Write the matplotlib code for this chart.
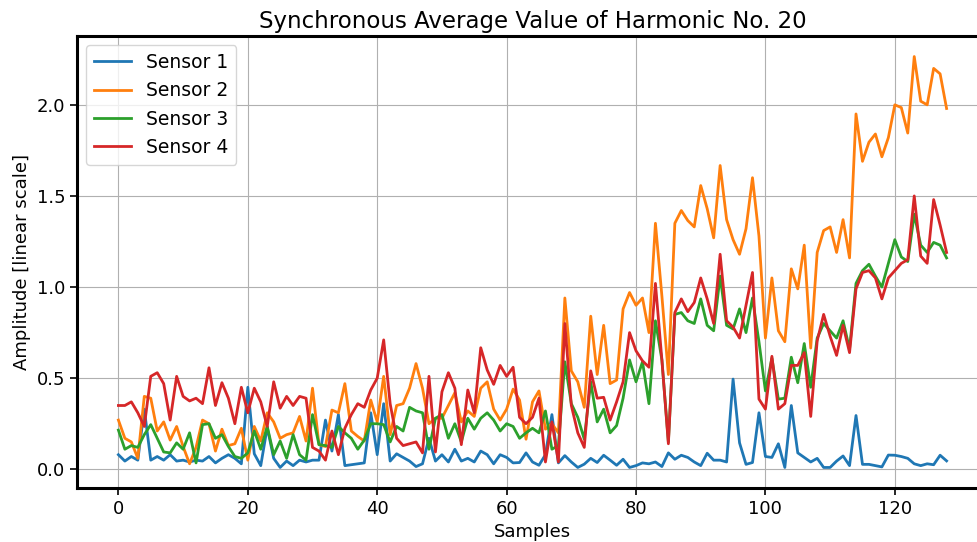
import numpy as np
import matplotlib
matplotlib.use("Agg")
import matplotlib.pyplot as plt

samples = np.arange(129)

sensor1 = [0.08, 0.045, 0.07, 0.05, 0.33, 0.05, 0.07, 0.05, 0.08, 0.045,
           0.05, 0.04, 0.05, 0.045, 0.07, 0.035, 0.06, 0.08, 0.06, 0.03,
           0.45, 0.085, 0.02, 0.23, 0.06, 0.01, 0.045, 0.02, 0.05, 0.04,
           0.05, 0.05, 0.27, 0.10, 0.30, 0.02, 0.025, 0.03, 0.035, 0.31,
           0.08, 0.36, 0.045, 0.085, 0.065, 0.045, 0.015, 0.03, 0.17, 0.045,
           0.08, 0.04, 0.11, 0.045, 0.06, 0.04, 0.10, 0.08, 0.03, 0.08,
           0.065, 0.035, 0.037, 0.09, 0.04, 0.022, 0.08, 0.30, 0.035, 0.075,
           0.04, 0.01, 0.028, 0.06, 0.037, 0.077, 0.05, 0.022, 0.055, 0.01,
           0.02, 0.035, 0.03, 0.04, 0.015, 0.09, 0.055, 0.077, 0.065, 0.04,
           0.02, 0.088, 0.05, 0.05, 0.04, 0.495, 0.145, 0.027, 0.037, 0.31,
           0.07, 0.065, 0.14, 0.01, 0.35, 0.09, 0.065, 0.04, 0.06, 0.01,
           0.01, 0.045, 0.073, 0.02, 0.295, 0.027, 0.027, 0.02, 0.013, 0.078,
           0.077, 0.07, 0.06, 0.03, 0.02, 0.03, 0.025, 0.077, 0.046]

sensor2 = [0.27, 0.17, 0.15, 0.06, 0.40, 0.39, 0.21, 0.26, 0.16, 0.235,
           0.125, 0.03, 0.12, 0.27, 0.25, 0.10, 0.22, 0.13, 0.14, 0.225,
           0.05, 0.235, 0.155, 0.31, 0.26, 0.17, 0.19, 0.20, 0.29, 0.155,
           0.445, 0.135, 0.125, 0.325, 0.31, 0.47, 0.21, 0.18, 0.155, 0.38,
           0.26, 0.51, 0.19, 0.35, 0.36, 0.445, 0.58, 0.445, 0.25, 0.28,
           0.28, 0.35, 0.42, 0.26, 0.32, 0.29, 0.445, 0.48, 0.33, 0.27,
           0.33, 0.44, 0.38, 0.165, 0.37, 0.43, 0.22, 0.25, 0.20, 0.94,
           0.54, 0.48, 0.34, 0.84, 0.52, 0.79, 0.47, 0.49, 0.88, 0.97,
           0.90, 0.94, 0.75, 1.35, 0.95, 0.52, 1.35, 1.42, 1.365, 1.33,
           1.557, 1.43, 1.27, 1.667, 1.37, 1.26, 1.18, 1.32, 1.60, 1.28,
           0.72, 1.05, 0.76, 0.70, 1.10, 0.99, 1.23, 0.665, 1.19, 1.31,
           1.33, 1.19, 1.37, 1.16, 1.95, 1.69, 1.795, 1.84, 1.715, 1.82,
           2.0, 1.985, 1.845, 2.265, 2.02, 2.0, 2.20, 2.17, 1.98]

sensor3 = [0.215, 0.11, 0.13, 0.12, 0.19, 0.245, 0.17, 0.095, 0.09, 0.145,
           0.11, 0.20, 0.035, 0.245, 0.25, 0.17, 0.19, 0.125, 0.07, 0.06,
           0.09, 0.21, 0.11, 0.235, 0.08, 0.155, 0.06, 0.19, 0.08, 0.05,
           0.30, 0.135, 0.13, 0.12, 0.235, 0.20, 0.17, 0.11, 0.16, 0.25,
           0.25, 0.245, 0.15, 0.235, 0.21, 0.34, 0.32, 0.31, 0.11, 0.28,
           0.30, 0.17, 0.25, 0.15, 0.28, 0.22, 0.28, 0.31, 0.27, 0.21,
           0.25, 0.235, 0.17, 0.20, 0.225, 0.20, 0.32, 0.11, 0.13, 0.59,
           0.36, 0.285, 0.165, 0.48, 0.26, 0.33, 0.20, 0.24, 0.39, 0.60,
           0.48, 0.59, 0.36, 0.815, 0.6, 0.15, 0.85, 0.86, 0.815, 0.80,
           0.935, 0.79, 0.76, 1.06, 0.79, 0.77, 0.88, 0.75, 0.94, 0.70,
           0.43, 0.61, 0.385, 0.39, 0.615, 0.475, 0.69, 0.45, 0.72, 0.80,
           0.76, 0.72, 0.815, 0.66, 1.02, 1.09, 1.125, 1.06, 1.0, 1.13,
           1.26, 1.165, 1.14, 1.40, 1.23, 1.19, 1.245, 1.23, 1.16]

sensor4 = [0.35, 0.35, 0.37, 0.31, 0.235, 0.51, 0.53, 0.47, 0.27, 0.51,
           0.40, 0.375, 0.39, 0.36, 0.557, 0.35, 0.475, 0.39, 0.25, 0.45,
           0.31, 0.445, 0.37, 0.235, 0.48, 0.335, 0.40, 0.35, 0.40, 0.39,
           0.12, 0.10, 0.05, 0.21, 0.08, 0.225, 0.30, 0.36, 0.34, 0.435,
           0.50, 0.71, 0.36, 0.17, 0.13, 0.14, 0.15, 0.09, 0.51, 0.095,
           0.425, 0.53, 0.445, 0.135, 0.435, 0.31, 0.667, 0.545, 0.466, 0.57,
           0.51, 0.56, 0.285, 0.25, 0.285, 0.39, 0.04, 0.26, 0.04, 0.80,
           0.35, 0.20, 0.12, 0.54, 0.39, 0.395, 0.27, 0.37, 0.48, 0.75,
           0.65, 0.595, 0.56, 1.02, 0.6, 0.14, 0.86, 0.935, 0.865, 0.915,
           1.05, 0.935, 0.80, 1.18, 0.815, 0.78, 0.72, 0.90, 1.08, 0.385,
           0.33, 0.62, 0.33, 0.36, 0.57, 0.57, 0.64, 0.29, 0.705, 0.85,
           0.73, 0.625, 0.79, 0.64, 0.99, 1.08, 1.09, 1.05, 0.935, 1.05,
           1.09, 1.13, 1.15, 1.50, 1.17, 1.13, 1.48, 1.34, 1.19]

series = [("Sensor 1", sensor1), ("Sensor 2", sensor2),
          ("Sensor 3", sensor3), ("Sensor 4", sensor4)]

fig = plt.figure(figsize=(9.77, 5.42), dpi=100)
W, H = 977, 542
ax = fig.add_axes([77 / W, (542 - 488) / H, (988 - 77) / W, (488 - 36) / H])

for label, vals in series:
    ax.plot(samples, vals, label=label, linewidth=2)

ax.grid(True, color="#b0b0b0", linewidth=0.8)
ax.set_axisbelow(True)
for s in ax.spines.values():
    s.set_linewidth(2.2)
ax.tick_params(labelsize=13, width=1.2, length=5)
ax.set_title("Synchronous Average Value of Harmonic No. 20", fontsize=16.5)
ax.set_xlabel("Samples", fontsize=13)
ax.set_ylabel("Amplitude [linear scale]", fontsize=13)
ax.set_yticks([0.0, 0.5, 1.0, 1.5, 2.0])
ax.legend(loc="upper left", fontsize=13.5)

fig.savefig("out.png", dpi=100)
